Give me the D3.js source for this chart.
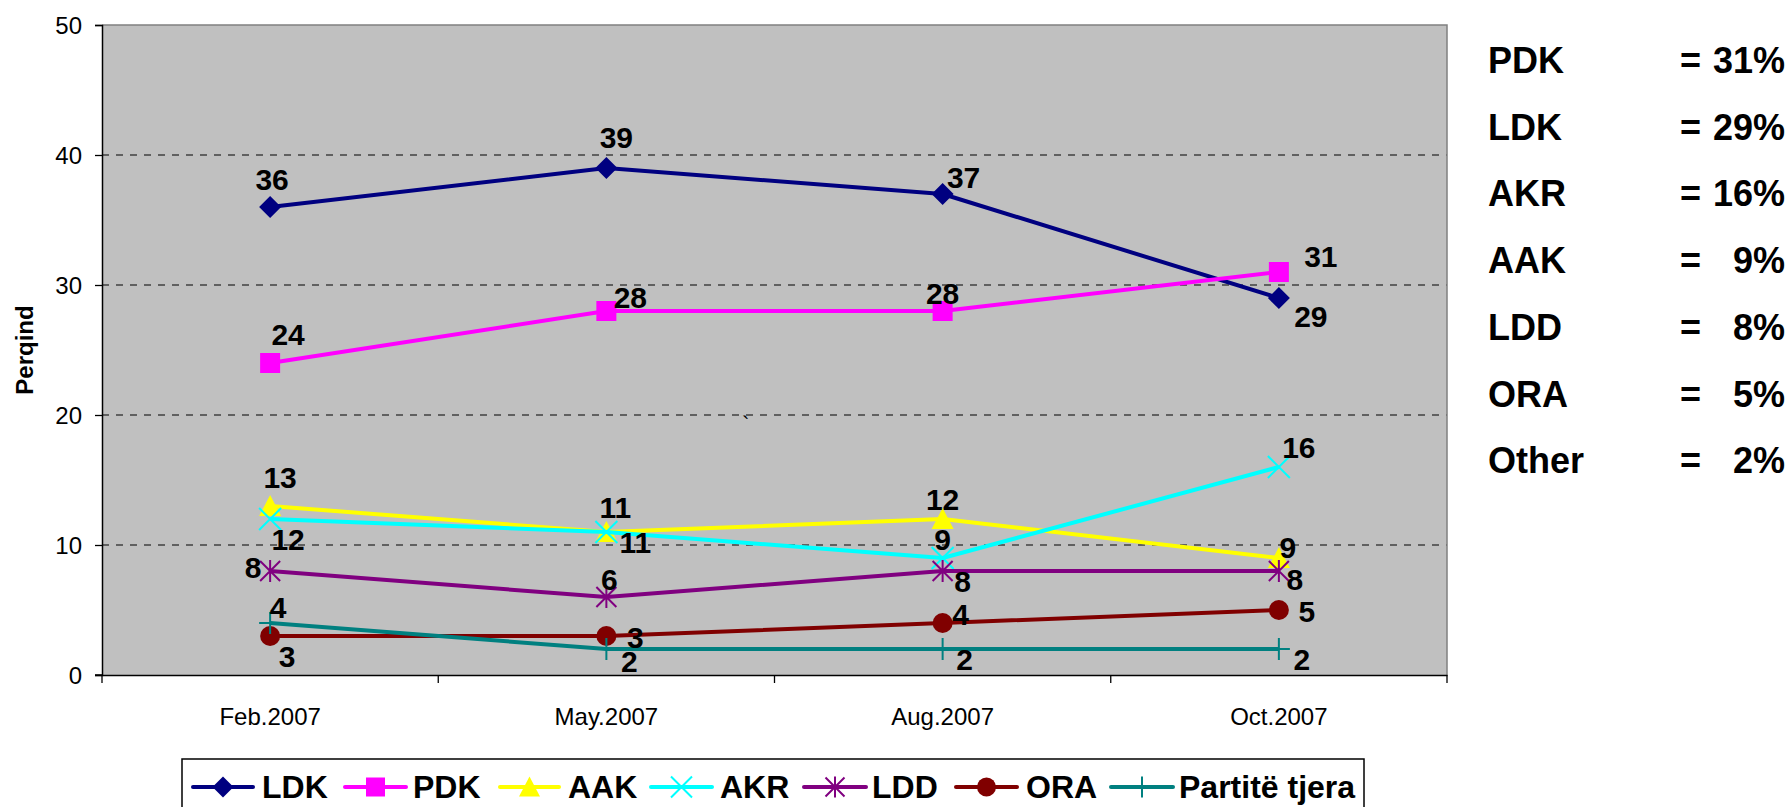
<!DOCTYPE html>
<html>
<head>
<meta charset="utf-8">
<script src="https://cdn.jsdelivr.net/npm/d3@7"></script>
<style>
  html, body { margin: 0; padding: 0; background: #ffffff; }
  svg { display: block; font-family: "Liberation Sans", Arial, sans-serif; }
</style>
</head>
<body>
<svg id="chart" width="1790" height="807"></svg>
<script>
// ---------------- DATA ----------------
const categories = ["Feb.2007", "May.2007", "Aug.2007", "Oct.2007"];
const seriesNames = ["LDK", "PDK", "AAK", "AKR", "LDD", "ORA", "Partitë tjera"];
const ldkValues   = [36, 39, 37, 29];
const pdkValues   = [24, 28, 28, 31];
const aakValues   = [13, 11, 12, 9];
const akrValues   = [12, 11, 9, 16];
const lddValues   = [8, 6, 8, 8];
const oraValues   = [3, 3, 4, 5];
const otherValues = [4, 2, 2, 2];
const yTickValues = [0, 10, 20, 30, 40, 50];
const yAxisTitle = "Perqind";
const summaryParties = ["PDK", "LDK", "AKR", "AAK", "LDD", "ORA", "Other"];
const summaryValues  = [31, 29, 16, 9, 8, 5, 2];

// ---------------- STYLE / LAYOUT ----------------
const seriesValues = [ldkValues, pdkValues, aakValues, akrValues, lddValues, oraValues, otherValues];
const seriesColors = ["#000080", "#FF00FF", "#FFFF00", "#00FFFF", "#800080", "#800000", "#008080"];
const seriesMarkers = ["diamond", "square", "triangle", "x", "asterisk", "circle", "plus"];
// label offsets (dx, dy of text baseline centre relative to the point)
const labelOffsets = [
  [[2, -17], [10, -20], [21, -6], [32, 29]],
  [[18, -18], [24, -3], [0, -7], [42, -5]],
  [[10, -18], [9, -14], [0, -9], [9, 0]],
  [[18, 31], [29, 21], [0, -8], [20, -9]],
  [[-17, 7], [3, -7], [20, 21], [16, 19]],
  [[17, 31], [29, 12], [18, 2], [28, 12]],
  [[8, -5], [23, 23], [22, 21], [23, 21]]
];
// legend item positions: [lineStart, lineEnd, textStart]
const legendLayout = [
  [193, 253, 262], [345, 406, 413], [500, 559, 568], [651, 712, 720],
  [804, 866, 872], [956, 1017, 1026], [1111, 1173, 1179]
];

const plot = { left: 102, right: 1447, top: 25, bottom: 675 };
const svg = d3.select("#chart");

const x = d3.scaleBand().domain(categories).range([plot.left, plot.right]).padding(0);
const xc = c => x(c) + x.bandwidth() / 2;
const y = d3.scaleLinear().domain([0, 50]).range([plot.bottom, plot.top]);

// marker path generator
function markerPath(type, s) {
  const h = s / 2;
  switch (type) {
    case "diamond": return `M0,${-h-1}L${h+1},0L0,${h+1}L${-h-1},0Z`;
    case "square": return `M${-h},${-h}H${h}V${h}H${-h}Z`;
    case "triangle": return `M0,${-h-1}L${h+1},${h}L${-h-1},${h}Z`;
    case "x": return `M${-h-1},${-h-1}L${h+1},${h+1}M${h+1},${-h-1}L${-h-1},${h+1}`;
    case "asterisk": return `M${-h},${-h}L${h},${h}M${h},${-h}L${-h},${h}M0,${-h-1}V${h+1}`;
    case "plus": return `M${-h-1},0H${h+1}M0,${-h-1}V${h+1}`;
    case "circle": return d3.symbol(d3.symbolCircle, Math.PI * h * h)();
  }
}
const filled = { diamond: true, square: true, triangle: true, circle: true, x: false, asterisk: false, plus: false };

function drawMarker(g, type, color, cx, cy, s) {
  const p = g.append("path")
    .attr("d", markerPath(type, s))
    .attr("transform", `translate(${cx},${cy})`);
  if (filled[type]) p.attr("fill", color).attr("stroke", "none");
  else p.attr("fill", "none").attr("stroke", color).attr("stroke-width", 2);
}

// plot background
svg.append("rect")
  .attr("x", plot.left).attr("y", plot.top)
  .attr("width", plot.right - plot.left).attr("height", plot.bottom - plot.top)
  .attr("fill", "#C0C0C0");

// gridlines
svg.append("g").selectAll("line")
  .data(yTickValues.filter(v => v > 0 && v < 50))
  .join("line")
  .attr("x1", plot.left).attr("x2", plot.right)
  .attr("y1", d => y(d)).attr("y2", d => y(d))
  .attr("stroke", "#404040").attr("stroke-width", 1.3)
  .attr("stroke-dasharray", "7,7");

// plot border top/right
svg.append("path")
  .attr("d", `M${plot.left},${plot.top}H${plot.right}V${plot.bottom}`)
  .attr("fill", "none").attr("stroke", "#808080").attr("stroke-width", 1.5);

// y axis
const yAxis = svg.append("g")
  .attr("transform", `translate(${plot.left},0)`)
  .call(d3.axisLeft(y).tickValues(yTickValues).tickSize(7).tickPadding(13).tickFormat(d3.format("d")));
yAxis.select(".domain").attr("stroke", "#000").attr("stroke-width", 1.5);
yAxis.selectAll(".tick line").attr("stroke", "#000").attr("stroke-width", 1.3);
yAxis.selectAll(".tick text")
  .attr("font-size", 24).attr("font-family", "'Liberation Sans', Arial, sans-serif")
  .attr("fill", "#000").attr("dy", "0.36em");

// x axis
const xAxis = svg.append("g")
  .attr("transform", `translate(0,${plot.bottom})`)
  .call(d3.axisBottom(x).tickSize(0).tickPadding(33));
xAxis.select(".domain").attr("stroke", "#000").attr("stroke-width", 1.5);
xAxis.selectAll(".tick text")
  .attr("font-size", 24).attr("font-family", "'Liberation Sans', Arial, sans-serif")
  .attr("fill", "#000");
// x tick marks at category boundaries
const boundaries = categories.map(c => x(c)).concat([plot.right]);
svg.append("g").selectAll("line").data(boundaries).join("line")
  .attr("x1", d => d).attr("x2", d => d)
  .attr("y1", plot.bottom).attr("y2", plot.bottom + 8)
  .attr("stroke", "#000").attr("stroke-width", 1.3);
svg.append("line")
  .attr("x1", plot.left - 7).attr("x2", plot.left)
  .attr("y1", plot.bottom).attr("y2", plot.bottom)
  .attr("stroke", "#000").attr("stroke-width", 1.5);

// y axis title
svg.append("text")
  .attr("transform", `translate(33,${(plot.top + plot.bottom) / 2}) rotate(-90)`)
  .attr("text-anchor", "middle")
  .attr("font-size", 24).attr("font-weight", "bold")
  .text(yAxisTitle);

// series
const line = d3.line().x((d, i) => xc(categories[i])).y(d => y(d));
const seriesG = svg.append("g");
seriesValues.forEach((vals, si) => {
  const g = seriesG.append("g");
  g.append("path")
    .attr("d", line(vals))
    .attr("fill", "none")
    .attr("stroke", seriesColors[si])
    .attr("stroke-width", 4)
    .attr("stroke-linejoin", "round");
  vals.forEach((v, i) => {
    drawMarker(g, seriesMarkers[si], seriesColors[si], xc(categories[i]), y(v), 20);
  });
});

// data labels
const labelG = svg.append("g");
seriesValues.forEach((vals, si) => {
  vals.forEach((v, i) => {
    const [dx, dy] = labelOffsets[si][i];
    labelG.append("text")
      .attr("x", xc(categories[i]) + dx)
      .attr("y", y(v) + dy)
      .attr("text-anchor", "middle")
      .attr("font-size", 30).attr("font-weight", "bold")
      .attr("fill", "#000")
      .text(v);
  });
});

// small stray mark present in the original
svg.append("text").attr("x", 742).attr("y", 432).attr("font-size", 22).attr("fill", "#000").text("`");

// legend
const legend = svg.append("g");
legend.append("rect")
  .attr("x", 182).attr("y", 759)
  .attr("width", 1364 - 182).attr("height", 70)
  .attr("fill", "#fff").attr("stroke", "#000").attr("stroke-width", 1.5);
seriesNames.forEach((name, si) => {
  const [x1, x2, tx] = legendLayout[si];
  const ly = 787;
  legend.append("line")
    .attr("x1", x1).attr("x2", x2).attr("y1", ly).attr("y2", ly)
    .attr("stroke", seriesColors[si]).attr("stroke-width", 4).attr("stroke-linecap", "round");
  drawMarker(legend, seriesMarkers[si], seriesColors[si], (x1 + x2) / 2, ly, 19);
  legend.append("text")
    .attr("x", tx).attr("y", 798)
    .attr("font-size", 32).attr("font-weight", "bold").attr("fill", "#000")
    .text(name);
});

// summary on the right
const summary = svg.append("g");
summaryParties.forEach((p, i) => {
  const by = 73 + i * 66.7;
  summary.append("text").attr("x", 1488).attr("y", by)
    .attr("font-size", 36).attr("font-weight", "bold").text(p);
  summary.append("text").attr("x", 1680).attr("y", by)
    .attr("font-size", 36).attr("font-weight", "bold").text("=");
  summary.append("text").attr("x", 1785).attr("y", by)
    .attr("text-anchor", "end")
    .attr("font-size", 36).attr("font-weight", "bold").text(summaryValues[i] + "%");
});
</script>
</body>
</html>
